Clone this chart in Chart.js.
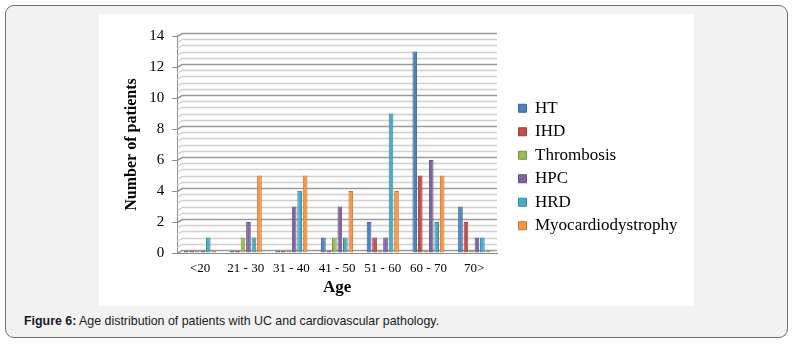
<!DOCTYPE html>
<html>
<head>
<meta charset="utf-8">
<script src="https://cdn.jsdelivr.net/npm/chart.js@4"></script>
<style>
    body { margin: 0; background: #fff; }
    #panel {
        position: absolute; left: 5px; top: 5px; width: 783px; height: 333px;
        box-sizing: border-box; border: 1.5px solid #707070; border-radius: 9px;
        background: #f2f2f2;
    }
    #plot { position: absolute; left: 99px; top: 14px; width: 595px; height: 292px; background: #fff; }
    #caption {
        position: absolute; left: 24px; top: 314px;
        font: 12.4px "Liberation Sans", Arial, sans-serif; color: #1a1a1a;
    }
</style>
</head>
<body>
<div id="panel"></div>
<div id="plot"><canvas id="ageChart" width="595" height="292"></canvas></div>
<div id="caption"><b>Figure 6:</b> Age distribution of patients with UC and cardiovascular pathology.</div>
<script>
// categories
const ageGroups = ["<20", "21 - 30", "31 - 40", "41 - 50", "51 - 60", "60 - 70", "70>"];

// number of patients per age group
const htCounts         = [0, 0, 0, 1, 2, 13, 3];
const ihdCounts        = [0, 0, 0, 0, 1, 5, 2];
const thrombosisCounts = [0, 1, 0, 1, 0, 0, 0];
const hpcCounts        = [0, 2, 3, 3, 1, 6, 1];
const hrdCounts        = [1, 1, 4, 1, 9, 2, 1];
const myoCounts        = [0, 5, 5, 4, 4, 5, 0];

const seriesNames = ["HT", "IHD", "Thrombosis", "HPC", "HRD", "Myocardiodystrophy"];
const seriesData = [htCounts, ihdCounts, thrombosisCounts, hpcCounts, hrdCounts, myoCounts];
const fills = ["#4f81bd", "#c0504d", "#9bbb59", "#8064a2", "#4bacc6", "#f79646"];
const edges = ["#3a6496", "#983d3a", "#789346", "#634e80", "#36879c", "#c4742f"];

const SERIF = '"Liberation Serif", "Times New Roman", serif';
const LEGEND_WIDTH = 189;   // room kept for the legend on the right
const LEGEND_GAP = 15;      // empty space between plot and legend

function isMajor(v) {
    return Math.abs(v / 2 - Math.round(v / 2)) < 1e-6;
}

// back wall gridlines with a small 3D slant at the left edge
const wallGrid = {
    id: 'wallGrid',
    afterLayout(chart) {
        // push the legend away from the plot
        if (chart.legend) chart.legend.left += LEGEND_GAP;
    },
    beforeDatasetsDraw(chart) {
        const ctx = chart.ctx;
        const area = chart.chartArea;
        const y = chart.scales.y;
        ctx.save();
        y.ticks.forEach(function (t) {
            const py = Math.round(y.getPixelForValue(t.value)) + 0.5;
            const major = isMajor(t.value);
            ctx.strokeStyle = major ? '#9a9a9a' : '#d0d0d0';
            ctx.lineWidth = major ? 1.6 : 1.3;
            ctx.beginPath();
            ctx.moveTo(area.left, py);
            ctx.lineTo(area.left + 5, py - 3);
            ctx.lineTo(area.right, py - 3);
            ctx.stroke();
        });
        ctx.restore();
    }
};

function drawChart() {
    const datasets = [];
    for (let i = 0; i < seriesNames.length; i++) {
        datasets.push({
            label: seriesNames[i],
            data: seriesData[i],
            backgroundColor: fills[i],
            borderColor: edges[i],
            borderWidth: 1,
            minBarLength: 2,
            categoryPercentage: 0.72,
            barPercentage: 0.85
        });
    }

    const chart = new Chart(document.getElementById('ageChart'), {
        type: 'bar',
        data: { labels: ageGroups, datasets: datasets },
        plugins: [wallGrid],
        options: {
            responsive: false,
            animation: false,
            layout: { padding: { left: 19, right: 8, top: 22, bottom: 8 } },
            plugins: {
                tooltip: { enabled: false },
                legend: {
                    position: 'right',
                    labels: {
                        boxWidth: 8, boxHeight: 8, padding: 6.5,
                        color: '#000',
                        font: { family: SERIF, size: 17 }
                    }
                }
            },
            scales: {
                x: {
                    grid: { display: false, drawTicks: false },
                    border: { color: '#8c8c8c' },
                    ticks: { color: '#000', font: { family: SERIF, size: 13 }, padding: 8, maxRotation: 0 },
                    title: {
                        display: true, text: 'Age', color: '#000',
                        padding: { top: -7, bottom: 0 },
                        font: { family: SERIF, size: 17, weight: 'bold' }
                    }
                },
                y: {
                    min: 0, max: 14,
                    grid: {
                        drawOnChartArea: false,
                        tickLength: 5,
                        tickColor: function (c) { return isMajor(c.tick.value) ? '#8c8c8c' : 'rgba(0,0,0,0)'; }
                    },
                    border: { color: '#8c8c8c' },
                    ticks: {
                        stepSize: 0.4,
                        autoSkip: false,
                        color: '#000',
                        font: { family: SERIF, size: 15 },
                        padding: 8,
                        callback: function (v) { return isMajor(v) ? Math.round(v) : ''; }
                    },
                    title: {
                        display: true, text: 'Number of patients', color: '#000',
                        padding: { top: 4, bottom: 0 },
                        font: { family: SERIF, size: 16, weight: 'bold' }
                    }
                }
            }
        }
    });

    // the default legend is capped at a quarter of the width; give it the room it needs
    const baseFit = chart.legend.fit;
    chart.legend.fit = function () {
        baseFit.call(this);
        this.width = LEGEND_WIDTH;
    };
    chart.update();
}

Promise.all([
    document.fonts.load('16px "Liberation Serif"'),
    document.fonts.load('bold 16px "Liberation Serif"')
]).then(drawChart, drawChart);
</script>
</body>
</html>
